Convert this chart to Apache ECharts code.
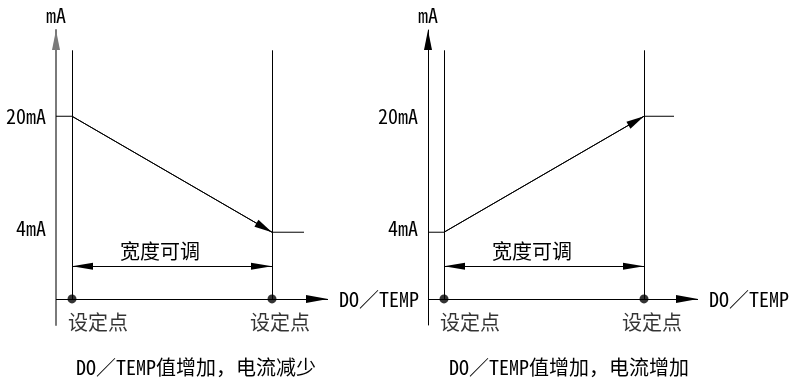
<!DOCTYPE html>
<html>
<head>
<meta charset="utf-8">
<script src="https://cdn.jsdelivr.net/npm/echarts@6/dist/echarts.min.js"></script>
<style>
html,body{margin:0;padding:0;background:#fff;}
#chart{width:799px;height:379px;}
</style>
</head>
<body>
<div id="chart"></div>
<script>
// ---- data ----
const setpoints = [0, 10];                 // 两个设定点（DO/TEMP 相对位置）
const setpointLabels = ['设定点', '设定点'];
const currentTicks = [4, 20];              // mA 刻度
const decreasingCurrent = [20, 4];         // 左图：设定点处输出电流
const increasingCurrent = [4, 20];         // 右图：设定点处输出电流
const panelTitles = ['DO／TEMP值增加，电流减少', 'DO／TEMP值增加，电流增加'];
const yAxisName = 'mA';
const xAxisName = 'DO／TEMP';
const spanLabel = '宽度可调';

// ---- layout (not data) ----
const FONT = "'Noto Sans Mono CJK SC', 'Noto Sans CJK SC', monospace";
const FS = 20;
const X_MIN = -0.8, X_MAX = 13;
const Y_MIN = -8.8, Y_MAX = 31.9;
const BASE_Y = -5.2;       // level of the DO/TEMP axis
const TOP_Y = 29.1;        // top of the set-point lines
const SPAN_Y = -0.7;       // level of the width arrow
const panels = [
  {left: 56, curve: decreasingCurrent, stubEnd: 11.6, axisEnd: 12.8, yColor: '#7a7a7a', yWidth: 2},
  {left: 428, curve: increasingCurrent, stubEnd: 11.5, axisEnd: 12.7, yColor: '#000', yWidth: 1}
];

const grids = [], xAxes = [], yAxes = [], series = [], titles = [];
const tri = (sz) => ({symbol: 'triangle', symbolSize: sz, symbolOffset: [0, sz[1] / 2]});
const none = {symbol: 'none'};
const txt = {fontFamily: FONT, fontSize: FS, color: '#000'};

panels.forEach((p, i) => {
  grids.push({left: p.left, width: 276, top: 30, height: 295, containLabel: false});
  xAxes.push({type: 'value', gridIndex: i, min: X_MIN, max: X_MAX, show: false});
  yAxes.push({
    type: 'value', gridIndex: i, min: Y_MIN, max: Y_MAX,
    name: yAxisName, nameLocation: 'end', nameGap: 5,
    nameTextStyle: Object.assign({align: 'center'}, txt),
    axisLine: {show: true, onZero: false, symbol: ['none', 'triangle'], symbolSize: [8, 20], symbolOffset: [0, -10],
      lineStyle: {color: p.yColor, width: p.yWidth}},
    axisTick: {show: false},
    splitLine: {show: false},
    axisLabel: Object.assign({
      customValues: currentTicks, margin: 10,
      formatter: (v) => v === currentTicks[0] ? '{lo|' + v + 'mA}' : v + 'mA',
      rich: {lo: Object.assign({padding: [0, 0, 8, 0]}, txt)}
    }, txt)
  });

  const c0 = p.curve[0], c1 = p.curve[1];
  series.push({
    type: 'line', xAxisIndex: i, yAxisIndex: i, silent: true, symbol: 'none',
    lineStyle: {color: '#000', width: 1},
    data: [[X_MIN, c0], [setpoints[0], c0], [setpoints[1], c1], [p.stubEnd, c1]],
    markLine: {
      silent: true, symbol: ['none', 'none'],
      lineStyle: {color: '#000', width: 1, type: 'solid'},
      label: {show: false},
      emphasis: {disabled: true},
      data: [
        // slope arrow
        [Object.assign({coord: [setpoints[0], c0]}, none),
         Object.assign({coord: [setpoints[1], c1]}, tri([8, 18]))],
        // set-point verticals
        [Object.assign({coord: [setpoints[0], BASE_Y]}, none), Object.assign({coord: [setpoints[0], TOP_Y]}, none)],
        [Object.assign({coord: [setpoints[1], BASE_Y]}, none), Object.assign({coord: [setpoints[1], TOP_Y]}, none)],
        // DO/TEMP axis
        [Object.assign({coord: [X_MIN, BASE_Y],
            label: Object.assign({show: true, position: 'end', formatter: xAxisName, distance: 11}, txt)}, none),
         Object.assign({coord: [p.axisEnd, BASE_Y]}, tri([8, 22]))],
        // width arrow
        [Object.assign({coord: [setpoints[0], SPAN_Y],
            label: Object.assign({show: true, position: 'middle', formatter: spanLabel, distance: 5, offset: [-12, 0]}, txt)},
            tri([7, 21])),
         Object.assign({coord: [setpoints[1], SPAN_Y]}, tri([7, 21]))]
      ]
    }
  });
  series.push({
    type: 'scatter', xAxisIndex: i, yAxisIndex: i, silent: true, symbolSize: 9, z: 5,
    itemStyle: {color: '#000'},
    label: Object.assign({show: true, position: 'bottom', distance: 9}, txt),
    data: setpoints.map((sp, k) => ({
      value: [sp, BASE_Y],
      label: {formatter: setpointLabels[k], align: k === 0 ? 'left' : 'center', offset: k === 0 ? [-4, 0] : [8, 0]}
    }))
  });
  titles.push({
    text: panelTitles[i], left: i === 0 ? 196 : 569, top: 357, textAlign: 'center', padding: 0,
    textStyle: Object.assign({fontWeight: 'normal'}, txt)
  });
});

const chart = echarts.init(document.getElementById('chart'), null, {renderer: 'canvas'});
chart.setOption({
  animation: false,
  backgroundColor: '#fff',
  title: titles,
  grid: grids,
  xAxis: xAxes,
  yAxis: yAxes,
  series: series
});
</script>
</body>
</html>
